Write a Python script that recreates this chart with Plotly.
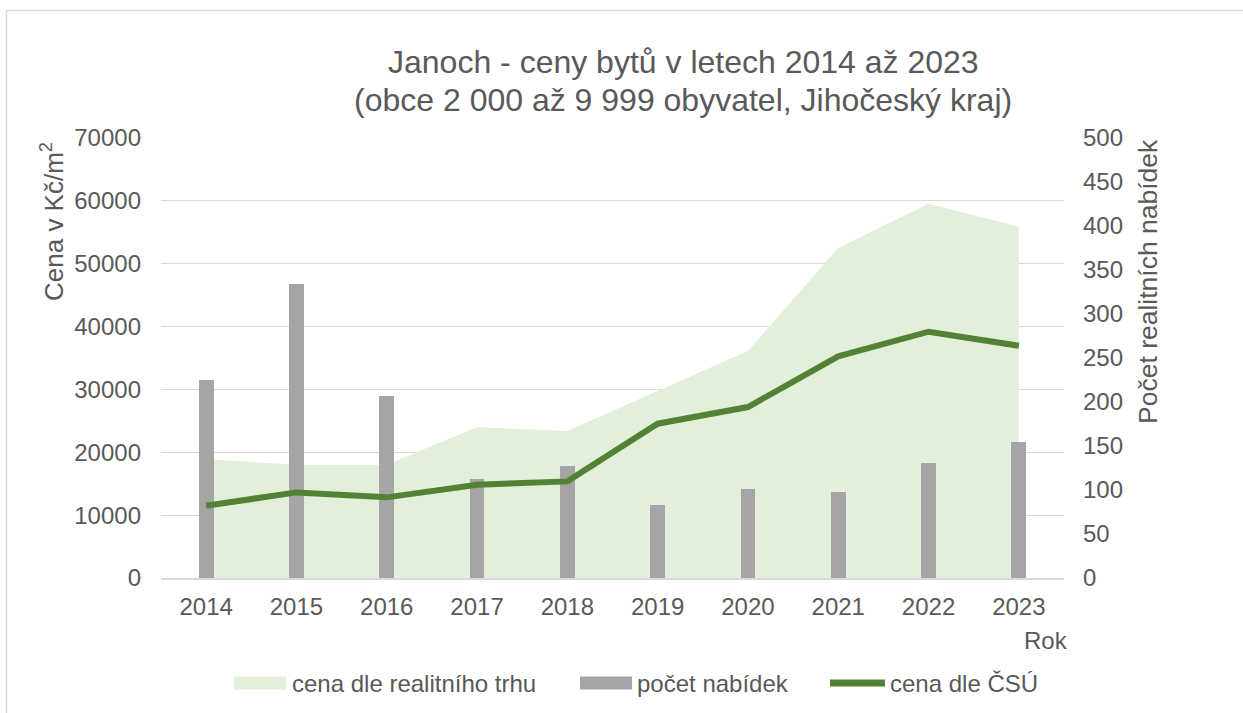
import plotly.graph_objects as go

# Data
years = ["2014", "2015", "2016", "2017", "2018", "2019", "2020", "2021", "2022", "2023"]
cena_trh = [18900, 18000, 18000, 24000, 23400, 29750, 36100, 52500, 59550, 55900]
pocet_nabidek = [225, 334, 207, 112, 127, 83, 101, 98, 131, 155]
cena_csu = [11500, 13620, 12830, 14840, 15370, 24550, 27200, 35260, 39180, 36950]

left_ticks = [0, 10000, 20000, 30000, 40000, 50000, 60000, 70000]
right_ticks = [0, 50, 100, 150, 200, 250, 300, 350, 400, 450, 500]

AREA = "#e2efda"
BAR = "#a5a5a5"
LINE = "#548235"
TEXT = "#595959"
GRID = "#d9d9d9"
FONT = "Liberation Sans, Arial, sans-serif"

W, H = 1243, 713
L, R, T, B = 161, 179, 138, 135
pw, ph = W - L - R, H - T - B


def px(x):
    return (x - L) / pw


def py(y):
    return (H - B - y) / ph


fig = go.Figure()

fig.add_trace(go.Scatter(
    x=years, y=cena_trh, name="cena dle realitního trhu",
    mode="none", fill="tozeroy", fillcolor=AREA, yaxis="y",
))
fig.add_trace(go.Bar(
    x=years, y=pocet_nabidek, name="počet nabídek",
    marker=dict(color=BAR, line=dict(width=0)),
    width=0.163, yaxis="y2",
))
fig.add_trace(go.Scatter(
    x=years, y=cena_csu, name="cena dle ČSÚ",
    mode="lines", line=dict(color=LINE, width=6), yaxis="y3",
))

fig.update_layout(
    width=W, height=H,
    margin=dict(l=L, r=R, t=T, b=B),
    paper_bgcolor="white", plot_bgcolor="white",
    font=dict(family=FONT, color=TEXT, size=24),
    showlegend=False,
    xaxis=dict(
        type="category", range=[-0.5, 9.5],
        showgrid=False, showline=True, linecolor=GRID, linewidth=1.5,
        ticks="", tickfont=dict(size=24, color=TEXT), ticklabelstandoff=6,
    ),
    yaxis=dict(
        range=[0, 70000], tickvals=left_ticks, tickformat="d",
        showgrid=True, gridcolor=GRID, gridwidth=1.3, zeroline=False,
        ticks="", tickfont=dict(size=24, color=TEXT), ticklabelstandoff=19,
    ),
    yaxis2=dict(
        range=[0, 500], tickvals=right_ticks, tickformat="d",
        overlaying="y", side="right",
        showgrid=False, zeroline=False,
        ticks="", tickfont=dict(size=24, color=TEXT), ticklabelstandoff=18,
    ),
    yaxis3=dict(range=[0, 70000], overlaying="y", visible=False),
    bargap=0,
)

annotations = [
    dict(text="Janoch - ceny bytů v letech 2014 až 2023", x=px(683), y=py(62),
         font=dict(size=32, color=TEXT)),
    dict(text="(obce 2 000 až 9 999 obyvatel, Jihočeský kraj)", x=px(683), y=py(100),
         font=dict(size=32, color=TEXT)),
    dict(text="Cena v Kč/m<sup>2</sup>", x=px(52), y=py(222), textangle=-90,
         font=dict(size=26, color=TEXT)),
    dict(text="Počet realitních nabídek", x=px(1148), y=py(282), textangle=-90,
         font=dict(size=26.5, color=TEXT)),
    dict(text="Rok", x=px(1046), y=py(640), font=dict(size=24, color=TEXT)),
]

# Legend: swatches and labels below the plot
legend_y = 683
legend_items = [
    ("area", "cena dle realitního trhu", 234, 286, 290),
    ("bar", "počet nabídek", 580, 632, 635),
    ("line", "cena dle ČSÚ", 830, 885, 888),
]
shapes = []
for kind, label, x0, x1, tx in legend_items:
    if kind == "line":
        shapes.append(dict(type="line", xref="paper", yref="paper",
                           x0=px(x0), x1=px(x1), y0=py(legend_y), y1=py(legend_y),
                           line=dict(color=LINE, width=7)))
    else:
        color = AREA if kind == "area" else BAR
        shapes.append(dict(type="rect", xref="paper", yref="paper",
                           x0=px(x0), x1=px(x1), y0=py(legend_y - 6.5), y1=py(legend_y + 6.5),
                           line=dict(width=0), fillcolor=color))
    annotations.append(dict(text=label, x=px(tx), y=py(legend_y), xanchor="left",
                            font=dict(size=24, color=TEXT)))

for a in annotations:
    a.setdefault("xanchor", "center")
    a.update(xref="paper", yref="paper", showarrow=False, yanchor="middle")

# Chart frame
shapes.append(dict(type="rect", xref="paper", yref="paper",
                   x0=px(6.5), x1=px(1260), y0=py(10.5), y1=py(730),
                   line=dict(color=GRID, width=1.5), fillcolor="rgba(0,0,0,0)",
                   layer="below"))

fig.update_layout(annotations=annotations, shapes=shapes)

fig.write_html("out.html")
